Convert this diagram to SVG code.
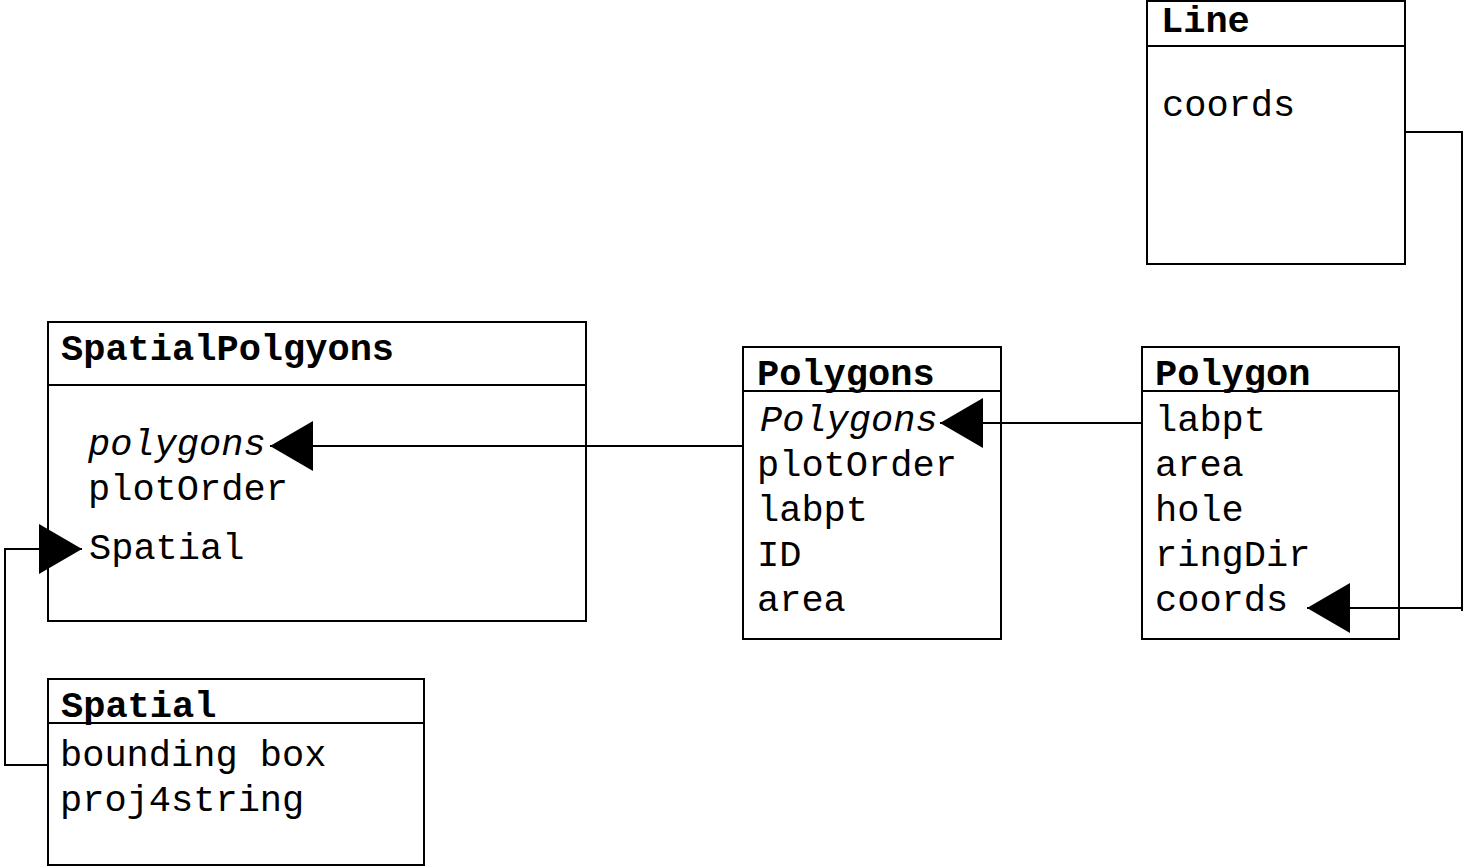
<svg xmlns="http://www.w3.org/2000/svg" width="1470" height="866" viewBox="0 0 1470 866">
<style>
.box{fill:#fff;stroke:#000;stroke-width:2}
.sep{stroke:#000;stroke-width:2}
.t{font-family:"Liberation Mono","Courier New",monospace;font-size:37px;fill:#000}
.b{font-weight:bold}
.i{font-style:italic}
.c{fill:none;stroke:#000;stroke-width:2}
</style>
<defs>
<marker id="arr" viewBox="0 0 43 50" refX="43" refY="25" markerWidth="43" markerHeight="50" markerUnits="userSpaceOnUse" orient="auto">
<path d="M0,0 L43,25 L0,50 z" fill="#000"/>
</marker>
</defs>
<rect width="1470" height="866" fill="#fff"/>
<g id="SpatialPolgyons">
<rect class="box" x="48" y="322" width="538" height="299"/>
<line class="sep" x1="48" y1="385" x2="586" y2="385"/>
<text class="t b" x="61" y="360">SpatialPolgyons</text>
<text class="t i" x="88" y="455">polygons</text>
<text class="t" x="88" y="500">plotOrder</text>
<text class="t" x="89" y="559">Spatial</text>
</g>
<g id="Spatial">
<rect class="box" x="48" y="679" width="376" height="186"/>
<line class="sep" x1="48" y1="723" x2="424" y2="723"/>
<text class="t b" x="61" y="717">Spatial</text>
<text class="t" x="60" y="766">bounding box</text>
<text class="t" x="60" y="811">proj4string</text>
</g>
<g id="Polygons">
<rect class="box" x="743" y="347" width="258" height="292"/>
<line class="sep" x1="743" y1="391" x2="1001" y2="391"/>
<text class="t b" x="757" y="385">Polygons</text>
<text class="t i" x="760" y="431">Polygons</text>
<text class="t" x="757" y="476">plotOrder</text>
<text class="t" x="757" y="521">labpt</text>
<text class="t" x="757" y="566">ID</text>
<text class="t" x="757" y="611">area</text>
</g>
<g id="Polygon">
<rect class="box" x="1142" y="347" width="257" height="292"/>
<line class="sep" x1="1142" y1="391" x2="1399" y2="391"/>
<text class="t b" x="1155" y="385">Polygon</text>
<text class="t" x="1155" y="431">labpt</text>
<text class="t" x="1155" y="476">area</text>
<text class="t" x="1155" y="521">hole</text>
<text class="t" x="1155" y="566">ringDir</text>
<text class="t" x="1155" y="611">coords</text>
</g>
<g id="Line">
<rect class="box" x="1147" y="1" width="258" height="263"/>
<line class="sep" x1="1147" y1="46" x2="1405" y2="46"/>
<text class="t b" x="1161" y="32">Line</text>
<text class="t" x="1162" y="116">coords</text>
</g>
<g id="connectors">
<path class="c" d="M743,446 H270" marker-end="url(#arr)"/>
<path class="c" d="M1142,423 H940" marker-end="url(#arr)"/>
<path class="c" d="M1405,132 H1462 V611 M1462,608 H1307" marker-end="url(#arr)"/>
<path class="c" d="M48,765 H5 V549 H82" marker-end="url(#arr)"/>
</g>
</svg>
